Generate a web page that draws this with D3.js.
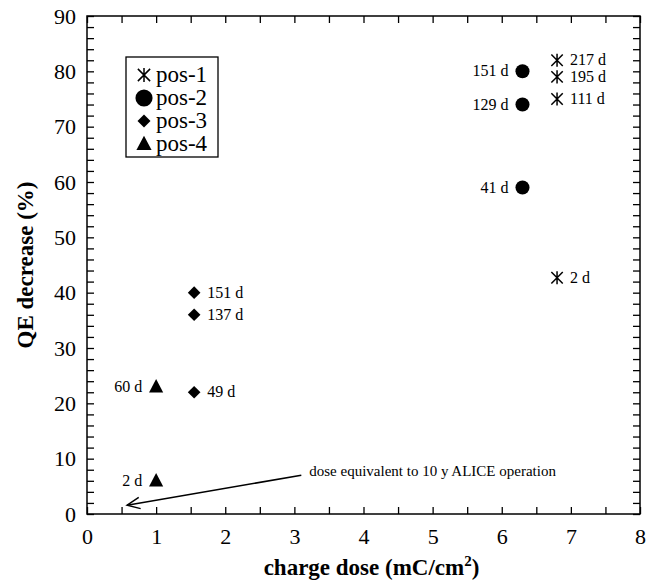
<!DOCTYPE html>
<html>
<head>
<meta charset="utf-8">
<script src="https://cdn.jsdelivr.net/npm/d3@7"></script>
<style>
  body { margin: 0; background: #fff; }
  svg { display: block; }
  svg text { font-family: "Liberation Serif", "Times New Roman", Times, "DejaVu Serif", serif !important; }
</style>
</head>
<body>
<svg id="chart" width="658" height="582"></svg>
<script>
// ---- data ----
const seriesNames = ["pos-1", "pos-2", "pos-3", "pos-4"];
const pos1Dose = [6.8, 6.8, 6.8, 6.8];
const pos1QE   = [82, 79, 75, 42.7];
const pos1Days = ["217 d", "195 d", "111 d", "2 d"];
const pos2Dose = [6.3, 6.3, 6.3];
const pos2QE   = [80, 74, 59];
const pos2Days = ["151 d", "129 d", "41 d"];
const pos3Dose = [1.55, 1.55, 1.55];
const pos3QE   = [40, 36, 22];
const pos3Days = ["151 d", "137 d", "49 d"];
const pos4Dose = [1.0, 1.0];
const pos4QE   = [23, 6];
const pos4Days = ["60 d", "2 d"];
const xTicks = [0, 1, 2, 3, 4, 5, 6, 7, 8];
const yTicks = [0, 10, 20, 30, 40, 50, 60, 70, 80, 90];
const annotationText = "dose equivalent to 10 y ALICE operation";
const arrowFrom = [3.1, 7.0];
const arrowTo = [0.58, 1.6];

// ---- layout ----
const svg = d3.select("#chart");
const L = 87, R = 640, T = 16, B = 514;
const x = d3.scaleLinear().domain([0, 8]).range([L, R]);
const y = d3.scaleLinear().domain([0, 90]).range([B, T]);

// frame
svg.append("rect").attr("x", L).attr("y", T).attr("width", R - L).attr("height", B - T)
  .attr("fill", "none").attr("stroke", "#000").attr("stroke-width", 1.5);

// ticks (inward) using axes
const xMinor = d3.range(0, 8.01, 0.5);
const yMinor = d3.range(0, 90.01, 2);
const tickStyle = g => { g.select(".domain").remove(); g.selectAll("line").attr("stroke", "#000").attr("stroke-width", 1.3); };

svg.append("g").attr("transform", `translate(0,${B})`)
  .call(d3.axisTop(x).tickValues(xMinor).tickSize(7).tickFormat(""))
  .call(tickStyle);
svg.append("g").attr("transform", `translate(0,${T})`)
  .call(d3.axisBottom(x).tickValues(xMinor).tickSize(7).tickFormat(""))
  .call(tickStyle);
svg.append("g").attr("transform", `translate(${L},0)`)
  .call(d3.axisRight(y).tickValues(yMinor).tickSize(7).tickFormat(""))
  .call(tickStyle);
svg.append("g").attr("transform", `translate(${R},0)`)
  .call(d3.axisLeft(y).tickValues(yMinor).tickSize(7).tickFormat(""))
  .call(tickStyle);

// tick labels
const xl = svg.append("g").attr("transform", `translate(0,${B})`)
  .call(d3.axisBottom(x).tickValues(xTicks).tickSize(0).tickPadding(14).tickFormat(d3.format("d")));
xl.select(".domain").remove();
xl.selectAll("text").attr("font-size", 22).attr("fill", "#000");

const yl = svg.append("g").attr("transform", `translate(${L},0)`)
  .call(d3.axisLeft(y).tickValues(yTicks).tickSize(0).tickPadding(11).tickFormat(d3.format("d")));
yl.select(".domain").remove();
yl.selectAll("text").attr("font-size", 22).attr("fill", "#000");

// axis titles
const xt = svg.append("text").attr("x", (L + R) / 2 + 8).attr("y", 575).attr("text-anchor", "middle")
  .attr("font-size", 23).attr("font-weight", "bold");
xt.append("tspan").text("charge dose (mC/cm");
xt.append("tspan").attr("font-size", 15).attr("dy", -9).text("2");
xt.append("tspan").attr("dy", 9).text(")");

svg.append("text").attr("transform", `translate(33,${(T + B) / 2}) rotate(-90)`)
  .attr("text-anchor", "middle").attr("font-size", 23).attr("font-weight", "bold")
  .text("QE decrease (%)");

// symbols
const star = d3.symbol().type({
  draw(ctx, size) {
    const r = Math.sqrt(size) / 2;
    ctx.moveTo(-r, -r); ctx.lineTo(r, r);
    ctx.moveTo(r, -r); ctx.lineTo(-r, r);
    ctx.moveTo(0, -r * 1.15); ctx.lineTo(0, r * 1.15);
  }
}).size(130);
const circle = d3.symbol().type(d3.symbolCircle).size(155);
const diamond = d3.symbol().type({
  draw(ctx, size) {
    const r = Math.sqrt(size) / 2;
    ctx.moveTo(0, -r); ctx.lineTo(r, 0); ctx.lineTo(0, r); ctx.lineTo(-r, 0); ctx.closePath();
  }
}).size(160);
const triangle = d3.symbol().type({
  draw(ctx, size) {
    const r = Math.sqrt(size) / 2;
    ctx.moveTo(0, -r * 1.1); ctx.lineTo(r, r * 0.8); ctx.lineTo(-r, r * 0.8); ctx.closePath();
  }
}).size(200);

const series = [
  { dose: pos1Dose, qe: pos1QE, days: pos1Days, sym: star, stroke: true, side: "right" },
  { dose: pos2Dose, qe: pos2QE, days: pos2Days, sym: circle, stroke: false, side: "left" },
  { dose: pos3Dose, qe: pos3QE, days: pos3Days, sym: diamond, stroke: false, side: "right" },
  { dose: pos4Dose, qe: pos4QE, days: pos4Days, sym: triangle, stroke: false, side: "left" }
];

series.forEach(s => {
  const pts = s.dose.map((d, i) => ({ d, q: s.qe[i], lab: s.days[i] }));
  const g = svg.append("g");
  g.selectAll("path").data(pts).join("path")
    .attr("transform", p => `translate(${x(p.d)},${y(p.q)})`)
    .attr("d", s.sym())
    .attr("fill", s.stroke ? "none" : "#000")
    .attr("stroke", "#000").attr("stroke-width", s.stroke ? 1.5 : 0);
  g.selectAll("text").data(pts).join("text")
    .attr("x", p => x(p.d) + (s.side === "right" ? 13 : -14))
    .attr("y", p => y(p.q) + 5)
    .attr("text-anchor", s.side === "right" ? "start" : "end")
    .attr("font-size", 16)
    .text(p => p.lab);
});

// legend
const lg = svg.append("g");
lg.append("rect").attr("x", 126).attr("y", 57).attr("width", 92).attr("height", 100)
  .attr("fill", "#fff").attr("stroke", "#000").attr("stroke-width", 1.3);
const legendSize = [150, 230, 170, 230];
seriesNames.forEach((n, i) => {
  const yy = 75 + i * 23;
  const s = series[i];
  lg.append("path").attr("transform", `translate(144,${yy})`).attr("d", s.sym.size(legendSize[i])())
    .attr("fill", s.stroke ? "none" : "#000").attr("stroke", "#000").attr("stroke-width", s.stroke ? 1.5 : 0);
  lg.append("text").attr("x", 156).attr("y", yy + 7).attr("font-size", 23).text(n);
});

// annotation arrow
const ax1 = x(arrowFrom[0]), ay1 = y(arrowFrom[1]), ax2 = x(arrowTo[0]), ay2 = y(arrowTo[1]);
svg.append("line").attr("x1", ax1).attr("y1", ay1).attr("x2", ax2).attr("y2", ay2)
  .attr("stroke", "#000").attr("stroke-width", 1.5);
const ang = Math.atan2(ay1 - ay2, ax1 - ax2);
const hl = 14, ha = 0.42;
svg.append("path")
  .attr("d", `M${ax2 + hl * Math.cos(ang - ha)},${ay2 + hl * Math.sin(ang - ha)} L${ax2},${ay2} L${ax2 + hl * Math.cos(ang + ha)},${ay2 + hl * Math.sin(ang + ha)}`)
  .attr("fill", "none").attr("stroke", "#000").attr("stroke-width", 1.5);
svg.append("text").attr("x", ax1 + 8).attr("y", ay1 + 1).attr("font-size", 15).text(annotationText);
</script>
</body>
</html>
